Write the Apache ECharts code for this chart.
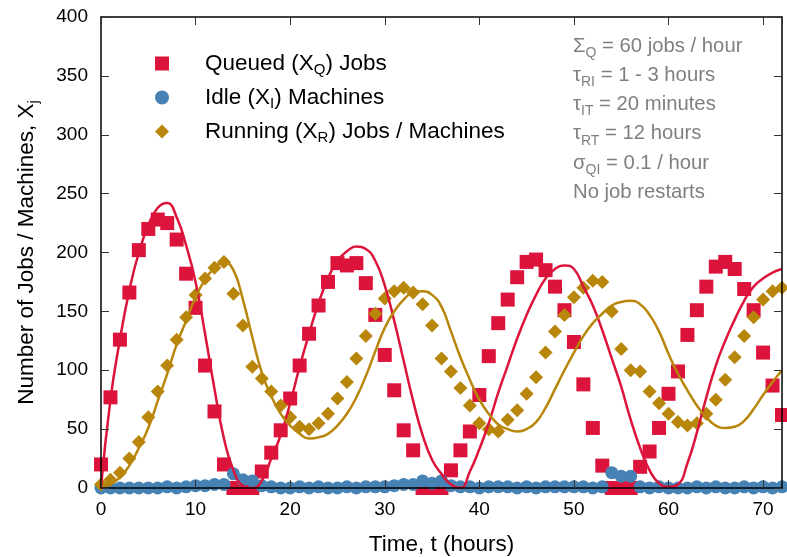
<!DOCTYPE html>
<html>
<head>
<meta charset="utf-8">
<script src="https://cdn.jsdelivr.net/npm/echarts@6/dist/echarts.min.js"></script>
<style>
html,body{margin:0;padding:0;background:#fff;}
#chart{width:787px;height:557px;}
</style>
</head>
<body>
<div id="chart"></div>
<script>
// time in hours
const hours = [0,1,2,3,4,5,6,7,8,9,10,11,12,13,14,15,16,17,18,19,20,21,22,23,24,25,26,27,28,29,30,31,32,33,34,35,36,37,38,39,40,41,42,43,44,45,46,47,48,49,50,51,52,53,54,55,56,57,58,59,60,61,62,63,64,65,66,67,68,69,70,71,72];
// simulated points
const queued = [20,77,126,166,202,220,228,225,211,182,153,104,65,20,0,0,0,14,30,49,76,104,131,155,175,191,189,191,174,147,113,83,49,32,0,0,0,15,32,48,79,112,140,160,179,192,194,185,171,151,124,88,51,19,0,0,0,18,31,51,80,99,130,151,171,188,192,186,169,151,115,87,62];
const idle = [0,0,0,0,0,0,0,1,0,1,2,2,3,3,12,7,6,2,1,0,0,1,0,1,0,0,1,0,1,1,1,2,3,3,6,4,6,2,1,1,0,1,1,1,0,1,0,1,1,1,1,1,0,1,13,10,10,1,0,1,0,0,0,1,0,1,0,0,1,0,1,0,1];
const running = [3,7,13,25,39,60,82,104,126,145,164,178,187,192,165,138,103,93,82,70,60,52,50,55,63,76,90,110,129,148,161,167,170,166,156,138,110,99,85,70,55,50,48,58,66,80,94,115,133,147,162,170,176,175,150,118,100,99,82,72,63,56,53,55,63,75,92,111,129,145,160,167,170];
// model curves
const queuedModel = [0,75,126,168,200,223,238,242,230,206,175,131,84,42,15,2,0,6,25,45,72,103,131,157,178,193,201,205,203,193,172,142,108,74,45,24,12,3,0,14,33,55,81,104,127,147,164,178,186,189,186,171,155,134,110,86,58,34,15,4,1,3,21,47,77,104,125,143,159,171,178,183,186];
const runningModel = [0,3,9,19,34,51,74,97,122,142,162,177,187,192,185,160,128,98,78,63,53,46,42,43,46,53,63,77,95,116,136,150,160,166,167,164,154,133,111,92,75,63,54,50,48,50,56,68,84,100,115,129,140,148,155,158,159,156,147,133,114,97,83,70,60,53,51,52,57,67,79,90,100];

const xTicks = [0,10,20,30,40,50,60,70];
const yTicks = [0,50,100,150,200,250,300,350,400];

const legendLabels = {
  'Queued': '{f|Queued (X}{s|Q}{n|) Jobs}',
  'Idle': '{f|Idle (X}{s|I}{n|) Machines}',
  'Running': '{f|Running (X}{s|R}{n|) Jobs / Machines}'
};
const notes = [
  '{n|Σ}{s|Q}{n| = 60 jobs / hour}',
  '{n|τ}{s|RI}{n| = 1 - 3 hours}',
  '{n|τ}{s|IT}{n| = 20 minutes}',
  '{n|τ}{s|RT}{n| = 12 hours}',
  '{n|σ}{s|QI}{n| = 0.1 / hour}',
  '{n|No job restarts}'
];

const FONT = '"Liberation Sans", Arial, Helvetica, sans-serif';
const pair = (arr) => hours.map((h, i) => [h, arr[i]]);

const axisCommon = {
  type: 'value',
  z: 10,
  axisLine: {show: true, onZero: false, lineStyle: {color: '#000', width: 1.5}},
  axisTick: {show: true, inside: true, length: 8, lineStyle: {color: '#333', width: 1}},
  splitLine: {show: false}
};

const richMain = (size, color, lead) => ({
  f: {fontSize: size, color: color, fontFamily: FONT, lineHeight: 28, verticalAlign: 'middle', padding: [0, 0, 0, lead || 0]},
  n: {fontSize: size, color: color, fontFamily: FONT, lineHeight: 28, verticalAlign: 'middle'},
  s: {fontSize: Math.round(size * 0.68), color: color, fontFamily: FONT, lineHeight: Math.round(size * 0.68), verticalAlign: 'bottom'}
});

const chart = echarts.init(document.getElementById('chart'), null, {renderer: 'canvas'});
chart.setOption({
  animation: false,
  backgroundColor: '#fff',
  textStyle: {fontFamily: FONT},
  grid: {left: 101, right: 5, top: 17, bottom: 69, containLabel: false, outerBoundsMode: 'none'},
  legend: {
    show: true,
    orient: 'vertical',
    left: 150,
    top: 47,
    itemWidth: 14,
    itemHeight: 14,
    itemGap: 8.5,
    data: ['Queued', 'Idle', 'Running'],
    formatter: (name) => legendLabels[name],
    textStyle: {fontSize: 22.5, color: '#000', rich: richMain(22.5, '#000', 31)}
  },
  xAxis: [
    Object.assign({}, axisCommon, {
      position: 'bottom', min: 0, max: 72, interval: 10,
      name: 'Time, t (hours)', nameLocation: 'middle', nameGap: 45,
      nameTextStyle: {fontSize: 22.5, color: '#000', fontFamily: FONT},
      axisLabel: {show: true, fontSize: 19, color: '#000', margin: 12, showMaxLabel: false,
        formatter: (v) => xTicks.indexOf(v) >= 0 ? String(v) : ''}
    }),
    Object.assign({}, axisCommon, {
      position: 'top', min: 0, max: 72, interval: 10,
      axisLabel: {show: false}
    })
  ],
  yAxis: [
    Object.assign({}, axisCommon, {
      position: 'left', min: 0, max: 400, interval: 50,
      name: '{n|Number of Jobs / Machines, X}{s|j}', nameLocation: 'middle', nameGap: 60,
      nameTextStyle: {fontSize: 22.5, color: '#000', rich: richMain(22.5, '#000')},
      axisLabel: {show: true, fontSize: 19, color: '#000', margin: 13,
        formatter: (v) => yTicks.indexOf(v) >= 0 ? String(v) : ''}
    }),
    Object.assign({}, axisCommon, {
      position: 'right', min: 0, max: 400, interval: 50,
      axisLabel: {show: false}
    })
  ],
  graphic: notes.map((t, i) => ({
    type: 'text',
    left: 573,
    top: 36 + i * 29.3,
    z: 20,
    style: {text: t, rich: richMain(20.3, '#7f7f7f'), fill: '#7f7f7f', font: '20px ' + FONT}
  })),
  series: [
    {
      name: 'Queued', type: 'scatter', data: pair(queued),
      symbol: 'rect', symbolSize: 14, itemStyle: {color: '#DC143C', opacity: 1}, z: 2
    },
    {
      name: 'Idle', type: 'scatter', data: pair(idle),
      symbol: 'circle', symbolSize: 13, itemStyle: {color: '#4682B4', opacity: 1}, z: 3
    },
    {
      name: 'Running', type: 'scatter', data: pair(running),
      symbol: 'diamond', symbolSize: 14, itemStyle: {color: '#B8860B', opacity: 1}, z: 4
    },
    {
      name: 'Queued model', type: 'line', data: pair(queuedModel), smooth: 0.5,
      showSymbol: false, symbol: 'none', lineStyle: {color: '#DC143C', width: 2.5}, z: 5
    },
    {
      name: 'Running model', type: 'line', data: pair(runningModel), smooth: 0.5,
      showSymbol: false, symbol: 'none', lineStyle: {color: '#B8860B', width: 2.5}, z: 5
    }
  ]
});
</script>
</body>
</html>
